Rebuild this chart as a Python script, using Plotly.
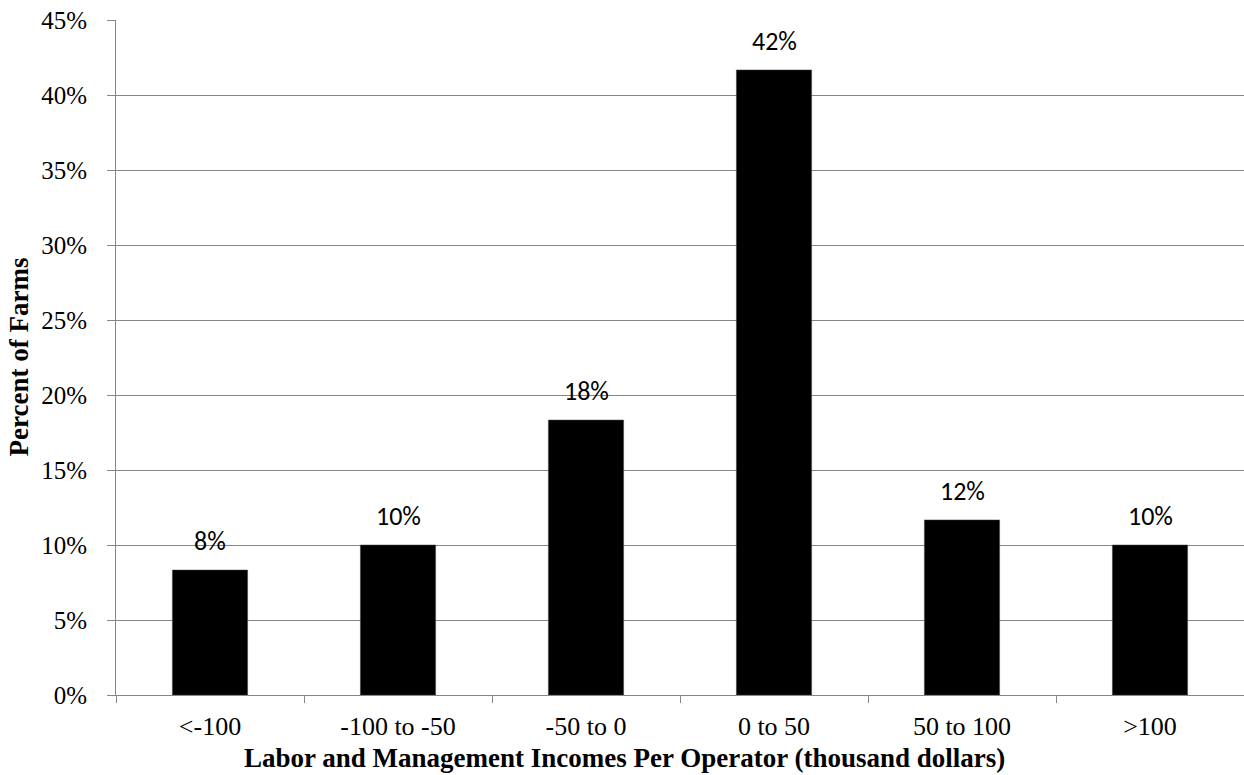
import plotly.graph_objects as go

categories = ["<-100", "-100 to -50", "-50 to 0", "0 to 50", "50 to 100", ">100"]
percent_farms = [8.33, 10.0, 18.33, 41.67, 11.67, 10.0]
y_ticks = [0, 5, 10, 15, 20, 25, 30, 35, 40, 45]
y_tick_text = [f"{v}%" for v in y_ticks]

serif = "Liberation Serif, Times New Roman, serif"
label_font = "Carlito, Open Sans, Noto Sans, sans-serif"

L, R, T, B = 116, 0, 20, 80
W, H = 1244, 775
plot_w = W - L - R
plot_h = H - T - B

fig = go.Figure(
    go.Bar(
        x=categories,
        y=percent_farms,
        marker=dict(color="black", line=dict(color="#404040", width=0.5)),
        width=0.4,
    )
)

# value labels above each bar
for cat, val in zip(categories, percent_farms):
    fig.add_annotation(
        x=cat, y=val, text=f"{val:.0f}%", showarrow=False,
        yanchor="middle", yshift=29,
        font=dict(family=label_font, size=26, color="black"),
    )

# axis titles
fig.add_annotation(
    xref="paper", yref="paper",
    x=(624 - L) / plot_w, y=-(758 - (T + plot_h)) / plot_h,
    text="<b>Labor and Management Incomes Per Operator (thousand dollars)</b>",
    showarrow=False, xanchor="center", yanchor="middle",
    font=dict(family=serif, size=27, color="black"),
)
fig.add_annotation(
    xref="paper", yref="paper",
    x=-(L - 18) / plot_w, y=0.5, textangle=-90,
    text="<b>Percent of Farms</b>",
    showarrow=False, xanchor="center", yanchor="middle",
    font=dict(family=serif, size=27, color="black"),
)

fig.update_layout(
    width=W, height=H,
    margin=dict(l=L, r=R, t=T, b=B),
    plot_bgcolor="white", paper_bgcolor="white",
    showlegend=False,
)
fig.update_xaxes(
    type="category", tickson="boundaries",
    ticks="outside", ticklen=7, tickcolor="#868686", tickwidth=1,
    showline=True, linecolor="#868686", linewidth=1,
    showgrid=False,
    ticklabelstandoff=8,
    tickfont=dict(family=serif, size=26, color="black"),
)
fig.update_yaxes(
    range=[0, 45], tickvals=y_ticks, ticktext=y_tick_text,
    ticks="outside", ticklen=8, tickcolor="#868686", tickwidth=1,
    showline=True, linecolor="#868686", linewidth=1,
    showgrid=True, gridcolor="#868686", gridwidth=1,
    zeroline=False,
    ticklabelstandoff=15,
    tickfont=dict(family=serif, size=25, color="black"),
)

fig.write_html("out.html")
